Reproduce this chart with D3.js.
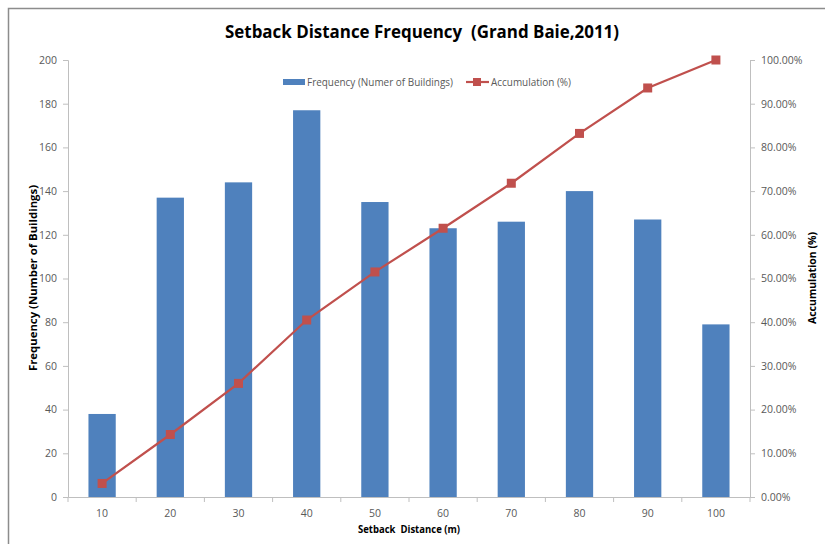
<!DOCTYPE html>
<html>
<head>
<meta charset="utf-8">
<script src="https://cdn.jsdelivr.net/npm/d3@7"></script>
<style>
  html, body { margin: 0; padding: 0; background: #fff; }
  svg { display: block; }
  text { font-family: "Open Sans", "DejaVu Sans", sans-serif; white-space: pre; }
</style>
</head>
<body>
<svg id="chart" width="825" height="544"></svg>
<script>
// Setback distance classes (m)
const categories = ["10", "20", "30", "40", "50", "60", "70", "80", "90", "100"];
// Number of buildings in each class
const frequency = [38, 137, 144, 177, 135, 123, 126, 140, 127, 79];
// Cumulative share of buildings (%)
const accumulation = [3.1, 14.3, 26.0, 40.5, 51.5, 61.5, 71.8, 83.2, 93.6, 100];
const leftTicks = [0, 20, 40, 60, 80, 100, 120, 140, 160, 180, 200];
const rightTicks = [0, 10, 20, 30, 40, 50, 60, 70, 80, 90, 100];

const svg = d3.select("#chart");
const m = { left: 68, right: 750, top: 60, bottom: 497 };

// chart frame
svg.append("path")
  .attr("d", `M8.5,544 V8.5 H825`)
  .attr("fill", "none").attr("stroke", "#8c8c8c").attr("stroke-width", 1.5);

const x = d3.scaleBand().domain(categories).range([m.left, m.right]).paddingInner(0.6).paddingOuter(0.3);
const yL = d3.scaleLinear().domain([0, 200]).range([m.bottom, m.top]);
const yR = d3.scaleLinear().domain([0, 100]).range([m.bottom, m.top]);

const axisColor = "#bfbfbf", labelColor = "#595959";

// bars
svg.append("g").selectAll("rect").data(frequency).join("rect")
  .attr("x", (d, i) => x(categories[i]))
  .attr("width", x.bandwidth())
  .attr("y", d => yL(d))
  .attr("height", d => yL(0) - yL(d))
  .attr("fill", "#4f81bd");

// left axis
const gl = svg.append("g").attr("transform", `translate(${m.left},0)`)
  .call(d3.axisLeft(yL).tickValues(leftTicks).tickSize(5).tickPadding(6));
// right axis
const gr = svg.append("g").attr("transform", `translate(${m.right},0)`)
  .call(d3.axisRight(yR).tickValues(rightTicks).tickSize(5).tickPadding(6)
    .tickFormat(d => d.toFixed(2) + "%"));
// bottom axis: labels at category centres, tick marks between categories
const gb = svg.append("g").attr("transform", `translate(0,${m.bottom})`)
  .call(d3.axisBottom(x).tickSize(0).tickPadding(13));
const bounds = d3.range(categories.length + 1).map(i => m.left + i * (m.right - m.left) / categories.length);
gb.selectAll(".sep").data(bounds).join("line").attr("class", "sep")
  .attr("x1", d => d).attr("x2", d => d).attr("y1", 0).attr("y2", 5)
  .attr("stroke", axisColor);

[gl, gr, gb].forEach(g => {
  g.selectAll(".domain").attr("stroke", axisColor);
  g.selectAll(".tick line").attr("stroke", axisColor);
  g.selectAll("text").attr("fill", labelColor).style("font-size", "10.5px")
    .style("font-family", "'Open Sans', sans-serif");
});

// accumulation line
const cx = (d, i) => x(categories[i]) + x.bandwidth() / 2;
svg.append("path").datum(accumulation)
  .attr("fill", "none").attr("stroke", "#c0504d").attr("stroke-width", 2.2)
  .attr("d", d3.line().x(cx).y(d => yR(d)));
svg.append("g").selectAll("rect").data(accumulation).join("rect")
  .attr("x", (d, i) => cx(d, i) - 4.5).attr("y", d => yR(d) - 4.5)
  .attr("width", 9).attr("height", 9).attr("fill", "#c0504d");

// title
svg.append("text").attr("x", 422).attr("y", 38).attr("text-anchor", "middle")
  .style("font-size", "18px").style("font-weight", "bold").attr("fill", "#000")
  .attr("textLength", 394).attr("lengthAdjust", "spacingAndGlyphs")
  .text("Setback Distance Frequency  (Grand Baie,2011)");

// axis titles
svg.append("text").attr("transform", "translate(37,278) rotate(-90)").attr("text-anchor", "middle")
  .style("font-size", "10px").style("font-weight", "bold").attr("fill", "#000")
  .attr("textLength", 186).attr("lengthAdjust", "spacingAndGlyphs")
  .text("Frequency (Number of Buildings)");
svg.append("text").attr("transform", "translate(816,278) rotate(-90)").attr("text-anchor", "middle")
  .style("font-size", "10px").style("font-weight", "bold").attr("fill", "#000")
  .attr("textLength", 92).attr("lengthAdjust", "spacingAndGlyphs")
  .text("Accumulation (%)");
svg.append("text").attr("x", 409).attr("y", 533).attr("text-anchor", "middle")
  .style("font-size", "10px").style("font-weight", "bold").attr("fill", "#000")
  .attr("textLength", 102).attr("lengthAdjust", "spacingAndGlyphs")
  .text("Setback  Distance (m)");

// legend
const lg = svg.append("g").style("font-size", "11px");
lg.append("rect").attr("x", 283).attr("y", 79).attr("width", 22).attr("height", 6).attr("fill", "#4f81bd");
lg.append("text").attr("x", 307).attr("y", 86).attr("fill", labelColor)
  .attr("textLength", 146).attr("lengthAdjust", "spacingAndGlyphs")
  .text("Frequency (Numer of Buildings)");
lg.append("line").attr("x1", 466).attr("x2", 489).attr("y1", 82).attr("y2", 82)
  .attr("stroke", "#c0504d").attr("stroke-width", 2.2);
lg.append("rect").attr("x", 473).attr("y", 78).attr("width", 8).attr("height", 8).attr("fill", "#c0504d");
lg.append("text").attr("x", 491).attr("y", 86).attr("fill", labelColor)
  .attr("textLength", 80).attr("lengthAdjust", "spacingAndGlyphs")
  .text("Accumulation (%)");
</script>
</body>
</html>
